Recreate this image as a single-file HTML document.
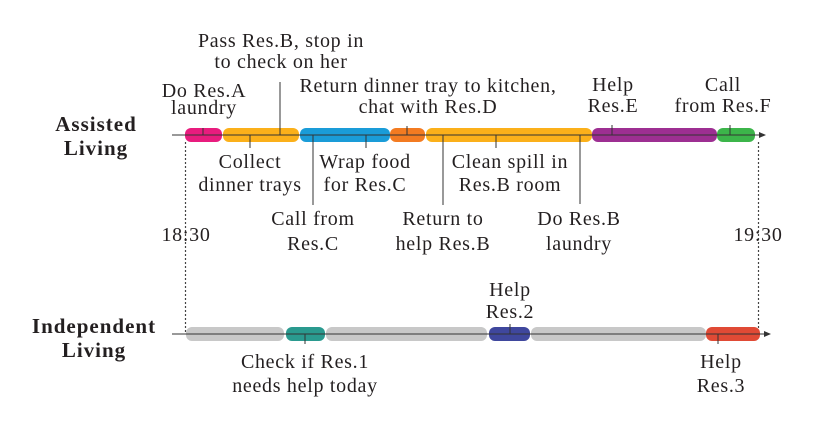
<!DOCTYPE html>
<html><head><style>
html,body{margin:0;padding:0;background:#fff;}
svg{display:block;}
text{font-family:"Liberation Serif",serif;font-size:20px;letter-spacing:0.7px;fill:#231f20;}
.b{font-weight:bold;font-size:21px;letter-spacing:1px;}
</style></head><body>
<svg width="831" height="424" viewBox="0 0 831 424" xmlns="http://www.w3.org/2000/svg">
<defs><marker id="ar" markerWidth="8" markerHeight="8" refX="6" refY="4" orient="auto"><path d="M0,1 L7,4 L0,7 z" fill="#333"/></marker></defs>
<line x1="185.5" y1="142" x2="185.5" y2="334" stroke="#444" stroke-dasharray="2,2" stroke-width="1.2"/>
<line x1="758.5" y1="142" x2="758.5" y2="334" stroke="#444" stroke-dasharray="2,2" stroke-width="1.2"/>
<g>
<rect x="185" y="128" width="37" height="14" rx="6" fill="#e81c7e"/>
<rect x="223" y="128" width="76" height="14" rx="6" fill="#fbb01a"/>
<rect x="300" y="128" width="90" height="14" rx="6" fill="#1a9cd8"/>
<rect x="390" y="128" width="35" height="14" rx="6" fill="#f37b21"/>
<rect x="426" y="128" width="166" height="14" rx="6" fill="#fbb01a"/>
<rect x="592" y="128" width="125" height="14" rx="6" fill="#9d2f92"/>
<rect x="717" y="128" width="38" height="14" rx="6" fill="#3cb54a"/>
</g>
<line x1="172" y1="135" x2="765" y2="135" stroke="#333" stroke-width="1" marker-end="url(#ar)"/>
<g stroke="#333" stroke-width="1">
<line x1="203" y1="135" x2="203" y2="128"/>
<line x1="280" y1="135" x2="280" y2="82"/>
<line x1="250" y1="135" x2="250" y2="148"/>
<line x1="313" y1="135" x2="313" y2="205"/>
<line x1="366" y1="135" x2="366" y2="148"/>
<line x1="407" y1="135" x2="407" y2="126"/>
<line x1="443" y1="135" x2="443" y2="205"/>
<line x1="496" y1="135" x2="496" y2="148"/>
<line x1="580" y1="135" x2="580" y2="204"/>
<line x1="612" y1="135" x2="612" y2="125"/>
<line x1="730" y1="135" x2="730" y2="125"/>
</g>
<rect x="186" y="327" width="98" height="14" rx="6" fill="#c8c8c8"/>
<rect x="286" y="327" width="39" height="14" rx="6" fill="#2a9a8f"/>
<rect x="326" y="327" width="161" height="14" rx="6" fill="#c8c8c8"/>
<rect x="489" y="327" width="41" height="14" rx="6" fill="#3f479d"/>
<rect x="531" y="327" width="175" height="14" rx="6" fill="#c8c8c8"/>
<rect x="706" y="327" width="54" height="14" rx="6" fill="#e04a35"/>
<line x1="172" y1="334" x2="770" y2="334" stroke="#333" stroke-width="1" marker-end="url(#ar)"/>
<g stroke="#333" stroke-width="1">
<line x1="305" y1="334" x2="305" y2="344"/>
<line x1="510" y1="334" x2="510" y2="324"/>
<line x1="718" y1="334" x2="718" y2="344"/>
</g>
<g text-anchor="middle">
<text x="281" y="47">Pass Res.B, stop in</text>
<text x="281" y="68">to check on her</text>
<text x="204" y="97">Do Res.A</text>
<text x="204" y="114">laundry</text>
<text x="428" y="92">Return dinner tray to kitchen,</text>
<text x="428" y="113">chat with Res.D</text>
<text x="613" y="91">Help</text>
<text x="613" y="112">Res.E</text>
<text x="723" y="91">Call</text>
<text x="723" y="112">from Res.F</text>
<text x="96" y="131" class="b">Assisted</text>
<text x="96" y="155" class="b">Living</text>
<text x="250" y="168">Collect</text>
<text x="250" y="191">dinner trays</text>
<text x="365" y="168">Wrap food</text>
<text x="365" y="191">for Res.C</text>
<text x="510" y="168">Clean spill in</text>
<text x="510" y="191">Res.B room</text>
<text x="313" y="225">Call from</text>
<text x="313" y="250">Res.C</text>
<text x="443" y="225">Return to</text>
<text x="443" y="250">help Res.B</text>
<text x="579" y="225">Do Res.B</text>
<text x="579" y="250">laundry</text>
<text x="186" y="241">18:30</text>
<text x="758" y="241">19:30</text>
<text x="94" y="333" class="b">Independent</text>
<text x="94" y="357" class="b">Living</text>
<text x="510" y="296">Help</text>
<text x="510" y="318">Res.2</text>
<text x="305" y="368">Check if Res.1</text>
<text x="305" y="392">needs help today</text>
<text x="721" y="368">Help</text>
<text x="721" y="392">Res.3</text>
</g>
</svg>
</body></html>
